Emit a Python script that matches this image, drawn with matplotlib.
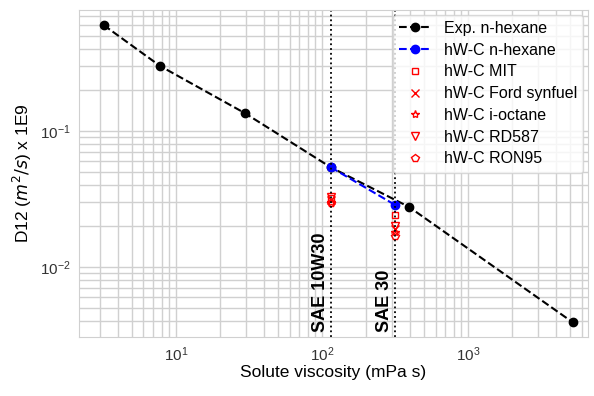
import numpy as np
import matplotlib.pyplot as plt

plt.rcParams['font.family'] = ['Liberation Sans', 'DejaVu Sans']

# experimental n-hexane
visc_exp = [3.2, 7.8, 29.7, 115, 395, 5240]
d12_exp = [0.60, 0.30, 0.135, 0.054, 0.0276, 0.0039]

# oil viscosities
sae_10w30 = 115
sae_30 = 318
visc_hw = [sae_10w30, sae_30]
d12_hw_hexane = [0.054, 0.0285]

# hW-C predictions for fuels at [SAE 10W30, SAE 30]
d12_mit = [0.0320, 0.0240]
d12_ford = [0.0310, 0.0190]
d12_ioctane = [0.0300, 0.0180]
d12_rd587 = [0.0325, 0.0200]
d12_ron95 = [0.0295, 0.0170]

fig, ax = plt.subplots(figsize=(5.94, 3.96), dpi=100)
fig.subplots_adjust(left=0.133, right=0.99, top=0.975, bottom=0.149)

ax.set_xscale('log')
ax.set_yscale('log')

ax.plot(visc_exp, d12_exp, 'k--o', markersize=6, linewidth=1.5, label='Exp. n-hexane')
ax.plot(visc_hw, d12_hw_hexane, '--o', color='blue', markersize=6, linewidth=1.5,
        label='hW-C n-hexane')
ax.plot(visc_hw, d12_mit, 's', color='red', mfc='none', markersize=4.5, linestyle='none', label='hW-C MIT')
ax.plot(visc_hw, d12_ford, 'x', color='red', markersize=6, linestyle='none', label='hW-C Ford synfuel')
ax.plot(visc_hw, d12_ioctane, '*', color='red', mfc='none', markersize=6, linestyle='none', label='hW-C i-octane')
ax.plot(visc_hw, d12_rd587, 'v', color='red', mfc='none', markersize=6, linestyle='none', label='hW-C RD587')
ax.plot(visc_hw, d12_ron95, 'p', color='red', mfc='none', markersize=6, linestyle='none', label='hW-C RON95')

# oil grades
ax.axvline(sae_10w30, color='black', linestyle=':', linewidth=1.3)
ax.axvline(sae_30, color='black', linestyle=':', linewidth=1.3)
ax.text(sae_10w30 * 0.97, 0.0033, 'SAE 10W30', rotation=90, ha='right', va='bottom',
        fontsize=13, fontweight='bold')
ax.text(sae_30 * 0.97, 0.0033, 'SAE 30', rotation=90, ha='right', va='bottom',
        fontsize=13, fontweight='bold')

ax.set_xlim(2.17, 6650)
ax.set_ylim(0.00305, 0.776)
ax.set_xlabel('Solute viscosity (mPa s)', fontsize=12.5, labelpad=1)
ax.set_ylabel('D12 ($m^2/s$) x 1E9', fontsize=12.5, labelpad=4)

ax.grid(True, which='both', color='#d0d0d0', linewidth=1.0)
ax.set_axisbelow(True)
ax.tick_params(which='both', length=0, labelsize=11, colors='#333333', pad=6)
for s in ax.spines.values():
    s.set_color('#d0d0d0')

ax.legend(loc='upper right', fontsize=11.5, framealpha=0.8, edgecolor='#d0d0d0',
          borderaxespad=0.3, labelspacing=0.42, handlelength=2.0)

fig.savefig('out.png', dpi=100)
